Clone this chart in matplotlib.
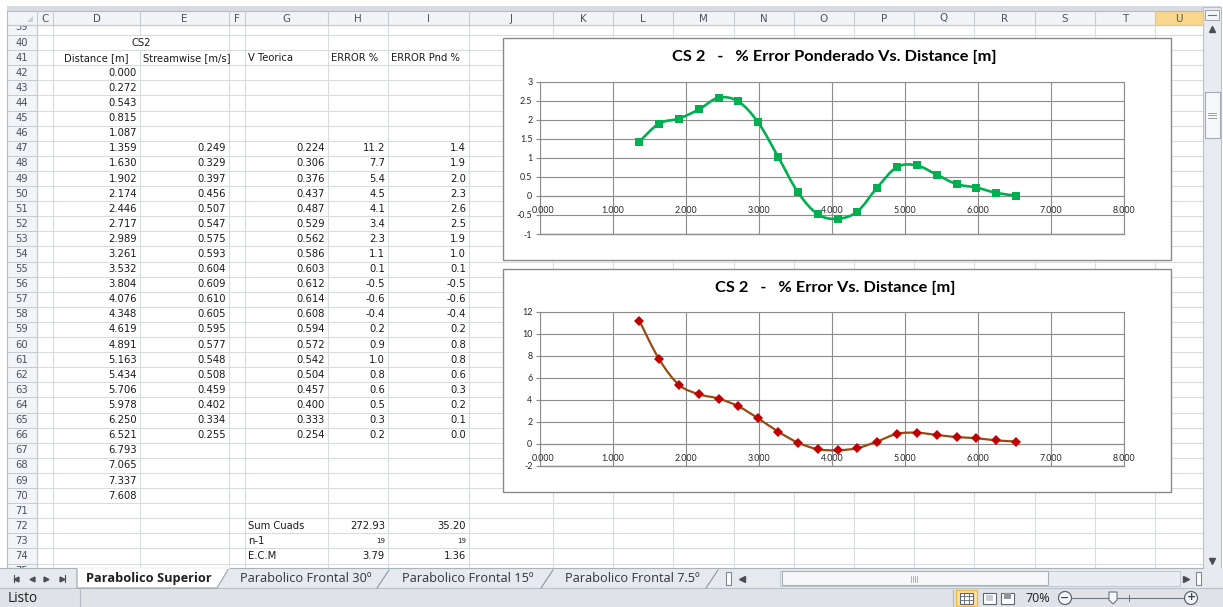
import numpy as np
import matplotlib.pyplot as plt
from matplotlib.patches import Rectangle, Polygon, Circle, PathPatch
from matplotlib.path import Path
from matplotlib.ticker import MultipleLocator, FuncFormatter

W, H = 1223, 607

# CS2 worksheet values
distance = [0.000, 0.272, 0.543, 0.815, 1.087, 1.359, 1.630, 1.902, 2.174,
            2.446, 2.717, 2.989, 3.261, 3.532, 3.804, 4.076, 4.348, 4.619,
            4.891, 5.163, 5.434, 5.706, 5.978, 6.250, 6.521, 6.793, 7.065,
            7.337, 7.608]
streamwise = [0.249, 0.329, 0.397, 0.456, 0.507, 0.547, 0.575, 0.593, 0.604,
              0.609, 0.610, 0.605, 0.595, 0.577, 0.548, 0.508, 0.459, 0.402,
              0.334, 0.255]
v_teorica = [0.224, 0.306, 0.376, 0.437, 0.487, 0.529, 0.562, 0.586, 0.603,
             0.612, 0.614, 0.608, 0.594, 0.572, 0.542, 0.504, 0.457, 0.400,
             0.333, 0.254]
error_pct = [11.2, 7.7, 5.36, 4.5, 4.1, 3.4, 2.3, 1.1, 0.1, -0.5, -0.6, -0.4,
             0.2, 0.9, 1.0, 0.8, 0.6, 0.5, 0.3, 0.2]
error_pnd = [1.42, 1.9, 2.03, 2.27, 2.58, 2.48, 1.93, 1.03, 0.1, -0.48, -0.6,
             -0.41, 0.22, 0.76, 0.8, 0.56, 0.31, 0.22, 0.08, 0.01]
sum_cuads = [272.93, 35.20]
n_minus_1 = [19, 19]
ecm = [3.79, 1.36]

headers = ['Distance [m]', 'Streamwise [m/s]', 'V Teorica', 'ERROR %', 'ERROR Pnd %']
summary_labels = ['Sum Cuads', 'n-1', 'E.C.M']
sheet_tabs = ['Parabolico Superior', 'Parabolico Frontal 30º',
              'Parabolico Frontal 15º', 'Parabolico Frontal 7.5º']
x_ticks = [0, 1, 2, 3, 4, 5, 6, 7, 8]

# sheet geometry (pixels)
cols = list('CDEFGHIJKLMNOPQRSTU')
edges = [37, 53, 140, 229, 245, 328, 388, 469, 553, 613, 673, 734, 794,
         854, 914, 974, 1035, 1095, 1155, 1203]
ROW_H = 15.1
FIRST_ROW, LAST_ROW = 39, 75
HEAD_TOP, HEAD_BOT = 11, 25
SHEET_LEFT = 7
SHEET_BOT = 568

GRID = '#d9dcdf'
HEAD_BG = '#f2f4f7'
HEAD_LINE = '#c6cbd2'
CELL_FONT = dict(family='DejaVu Sans', fontsize=7.2, color='#1a1a1a')


def row_y(r):
    return 148.3 + (r - 47) * 15.1


def right(c):
    return edges[cols.index(c) + 1]


def left(c):
    return edges[cols.index(c)]


def smooth_path(x, y):
    pts = np.column_stack([x, y])
    n = len(pts)
    verts, codes = [pts[0]], [Path.MOVETO]
    for i in range(n - 1):
        p0, p1 = pts[max(i - 1, 0)], pts[i]
        p2, p3 = pts[i + 1], pts[min(i + 2, n - 1)]
        verts += [p1 + (p2 - p0) / 6, p2 - (p3 - p1) / 6, p2]
        codes += [Path.CURVE4] * 3
    return Path(verts, codes)


fig = plt.figure(figsize=(W / 100, H / 100), dpi=100)
bg = fig.add_axes([0, 0, 1, 1])
bg.set_xlim(0, W)
bg.set_ylim(H, 0)
bg.axis('off')

# cell grid
for r in range(FIRST_ROW - 1, LAST_ROW + 1):
    yb = row_y(r) + ROW_H / 2
    bg.plot([edges[0], edges[-1]], [yb, yb], color=GRID, lw=0.8, zorder=1)
for e in edges[1:-1]:
    if e == right('D'):
        # D40:E40 is merged
        y40a, y40b = row_y(40) - ROW_H / 2, row_y(40) + ROW_H / 2
        bg.plot([e, e], [HEAD_BOT, y40a], color=GRID, lw=0.8, zorder=1)
        bg.plot([e, e], [y40b, SHEET_BOT], color=GRID, lw=0.8, zorder=1)
    else:
        bg.plot([e, e], [HEAD_BOT, SHEET_BOT], color=GRID, lw=0.8, zorder=1)

# cell contents
bg.text((left('D') + right('E')) / 2, row_y(40), 'CS2', ha='center', va='center', **CELL_FONT)
bg.text((left('D') + right('D')) / 2, row_y(41), headers[0], ha='center', va='center', **CELL_FONT)
for c, txt in zip('EGHI', headers[1:]):
    bg.text(left(c) + 3, row_y(41), txt, ha='left', va='center', **CELL_FONT)

for i, d in enumerate(distance):
    bg.text(right('D') - 3, row_y(42 + i), f'{d:.3f}', ha='right', va='center', **CELL_FONT)
for i in range(len(streamwise)):
    y = row_y(47 + i)
    bg.text(right('E') - 3, y, f'{streamwise[i]:.3f}', ha='right', va='center', **CELL_FONT)
    bg.text(right('G') - 3, y, f'{v_teorica[i]:.3f}', ha='right', va='center', **CELL_FONT)
    bg.text(right('H') - 3, y, f'{error_pct[i]:.1f}', ha='right', va='center', **CELL_FONT)
    bg.text(right('I') - 3, y, f'{error_pnd[i]:.1f}', ha='right', va='center', **CELL_FONT)

for k, lab in enumerate(summary_labels):
    bg.text(left('G') + 3, row_y(72 + k), lab, ha='left', va='center', **CELL_FONT)
for c, j in zip('HI', range(2)):
    bg.text(right(c) - 3, row_y(72), f'{sum_cuads[j]:.2f}', ha='right', va='center', **CELL_FONT)
    bg.text(right(c) - 3, row_y(73), f'{n_minus_1[j]}', ha='right', va='center',
            family='DejaVu Sans', fontsize=5, color='#1a1a1a')
    bg.text(right(c) - 3, row_y(74), f'{ecm[j]:.2f}', ha='right', va='center', **CELL_FONT)

# window frame strip above the headers
bg.add_patch(Rectangle((SHEET_LEFT, 6), W - SHEET_LEFT - 2, HEAD_TOP - 6,
                       facecolor='#d7dce2', edgecolor='none', zorder=3))

# row headers
bg.add_patch(Rectangle((SHEET_LEFT, HEAD_BOT), edges[0] - SHEET_LEFT, SHEET_BOT - HEAD_BOT,
                       facecolor=HEAD_BG, edgecolor='none', zorder=2))
bg.plot([edges[0], edges[0]], [HEAD_BOT, SHEET_BOT], color=HEAD_LINE, lw=0.9, zorder=2.2)
for r in range(FIRST_ROW, LAST_ROW + 1):
    yb = row_y(r) + ROW_H / 2
    bg.plot([SHEET_LEFT, edges[0]], [yb, yb], color=HEAD_LINE, lw=0.7, zorder=2.2)
    bg.text(22, row_y(r), str(r), ha='center', va='center', zorder=2.5,
            family='DejaVu Sans', fontsize=7.2, color='#4a5260')

# column headers
bg.add_patch(Rectangle((SHEET_LEFT, HEAD_TOP), edges[-1] - SHEET_LEFT, HEAD_BOT - HEAD_TOP,
                       facecolor=HEAD_BG, edgecolor='none', zorder=3))
bg.add_patch(Rectangle((left('U'), HEAD_TOP), right('U') - left('U'), HEAD_BOT - HEAD_TOP,
                       facecolor='#f9d78c', edgecolor='#efc060', lw=0.8, zorder=3.1))
bg.plot([SHEET_LEFT, edges[-1]], [HEAD_BOT, HEAD_BOT], color=HEAD_LINE, lw=0.9, zorder=3.2)
bg.plot([SHEET_LEFT, edges[-1]], [HEAD_TOP, HEAD_TOP], color='#b4bbc4', lw=0.8, zorder=3.2)
for e in edges:
    bg.plot([e, e], [HEAD_TOP, HEAD_BOT], color=HEAD_LINE, lw=0.8, zorder=3.2)
for c in cols:
    bg.text((left(c) + right(c)) / 2, (HEAD_TOP + HEAD_BOT) / 2 + 0.5, c, ha='center',
            va='center', zorder=3.5, family='DejaVu Sans', fontsize=7.4, color='#4a5260')
bg.add_patch(Polygon([(33, 16), (33, 22), (27, 22)], closed=True,
                     facecolor='#cbd0d7', edgecolor='none', zorder=3.5))
bg.plot([SHEET_LEFT, SHEET_LEFT], [HEAD_TOP, SHEET_BOT], color='#b4bbc4', lw=0.8, zorder=3.2)

# vertical scrollbar
bg.add_patch(Rectangle((1203, HEAD_TOP - 4), 18, SHEET_BOT - HEAD_TOP + 4,
                       facecolor='#e8ebef', edgecolor='#b9c0c9', lw=0.8, zorder=3))
bg.add_patch(Rectangle((1205, 10), 14, 10, facecolor='#f3f5f7',
                       edgecolor='#9aa3ad', lw=0.7, zorder=3.2))
bg.plot([1208, 1216], [15, 15], color='#6b7480', lw=0.8, zorder=3.3)
bg.plot([1212], [29], marker='^', ms=4.5, color='#4a4f55', zorder=3.3)
bg.plot([1212], [561], marker='v', ms=4.5, color='#4a4f55', zorder=3.3)
bg.add_patch(Rectangle((1204.5, 92), 15, 46, facecolor='#f7f8fa',
                       edgecolor='#a3abb5', lw=0.8, zorder=3.2))
for yy in (112.5, 115, 117.5):
    bg.plot([1208, 1216], [yy, yy], color='#8c939c', lw=0.6, zorder=3.3)

# sheet tab bar
bg.add_patch(Rectangle((0, SHEET_BOT), W, 20, facecolor='#e6e9ed',
                       edgecolor='none', zorder=4))
bg.plot([0, 1203], [SHEET_BOT, SHEET_BOT], color='#aab2bc', lw=0.8, zorder=4.1)
for xx, m in zip([16, 32, 46, 62], ['<', '<', '>', '>']):
    bg.plot([xx], [578.5], marker=m, ms=3.5, color='#4a4f55', zorder=4.2)
bg.plot([13.5, 13.5], [575, 582], color='#4a4f55', lw=0.8, zorder=4.2)
bg.plot([64.5, 64.5], [575, 582], color='#4a4f55', lw=0.8, zorder=4.2)
bg.add_patch(Polygon([(77, SHEET_BOT), (77, 588), (217, 588), (229, SHEET_BOT)],
                     closed=True, facecolor='white', edgecolor='#9aa3ad', lw=0.8, zorder=4.2))
bg.plot([77.5, 228.5], [SHEET_BOT, SHEET_BOT], color='white', lw=1.2, zorder=4.3)
tab_x = [86, 240, 402, 565]
sep_x = [None, 377, 541, 706]
for k, (tx, name) in enumerate(zip(tab_x, sheet_tabs)):
    bg.text(tx, 578.5, name, ha='left', va='center', zorder=4.5,
            family='Open Sans', fontsize=9.2,
            fontweight='bold' if k == 0 else 'normal',
            color='#1f1f1f' if k == 0 else '#30363d')
    if sep_x[k]:
        bg.plot([sep_x[k], sep_x[k] + 12], [588, 570], color='#8d96a1', lw=0.8, zorder=4.3)
bg.add_patch(Rectangle((725.5, 572), 5, 13, facecolor='white', edgecolor='#7d8590',
                       lw=0.8, zorder=4.3))
bg.plot([742], [578.5], marker='<', ms=4, color='#4a4f55', zorder=4.3)
bg.add_patch(Rectangle((780, 570.5), 400, 15, facecolor='#e9ecf0',
                       edgecolor='#c1c7cf', lw=0.7, zorder=4.2))
bg.add_patch(Rectangle((782, 571), 266, 14, facecolor='#f6f7f9',
                       edgecolor='#a7afb9', lw=0.8, zorder=4.3))
for xx in (911, 913, 915, 917):
    bg.plot([xx, xx], [575.5, 581.5], color='#8c939c', lw=0.5, zorder=4.4)
bg.plot([1186], [578.5], marker='>', ms=4, color='#4a4f55', zorder=4.3)
bg.add_patch(Rectangle((1195.5, 572), 5, 13, facecolor='white', edgecolor='#7d8590',
                       lw=0.8, zorder=4.3))

# status bar
bg.add_patch(Rectangle((0, 588), W, H - 588, facecolor='#dfe3e8',
                       edgecolor='none', zorder=4))
bg.plot([0, W], [588, 588], color='#b8c0c9', lw=0.8, zorder=4.1)
bg.text(8, 598, 'Listo', ha='left', va='center', family='Open Sans', fontsize=9.8,
        color='#1f1f1f', zorder=4.5)
bg.plot([80, 80], [590, 606], color='#b0b8c2', lw=0.8, zorder=4.2)
bg.plot([953, 953], [590, 606], color='#b0b8c2', lw=0.8, zorder=4.2)
bg.add_patch(Rectangle((956, 589.5), 21, 16, facecolor='#fbe2a6',
                       edgecolor='#f0b93b', lw=0.9, zorder=4.3))
for x0 in (960, 983, 1001):
    bg.add_patch(Rectangle((x0, 592.5), 13, 11, facecolor='white',
                           edgecolor='#5c6570', lw=0.8, zorder=4.4))
for xx in (964.3, 968.6):
    bg.plot([xx, xx], [592.5, 603.5], color='#5c6570', lw=0.6, zorder=4.5)
for yy in (596.2, 599.8):
    bg.plot([960, 973], [yy, yy], color='#5c6570', lw=0.6, zorder=4.5)
bg.add_patch(Rectangle((986, 595), 7, 6, facecolor='#c6ccd4', edgecolor='none', zorder=4.5))
bg.add_patch(Rectangle((1004, 592.5), 7, 6, facecolor='#8d96a1', edgecolor='none', zorder=4.5))
bg.text(1038, 598, '70%', ha='center', va='center', family='Open Sans', fontsize=9,
        color='#1f1f1f', zorder=4.5)
bg.plot([1072, 1184], [598, 598], color='#6d7681', lw=0.8, zorder=4.3)
for cx, sym in ((1065, '−'), (1191, '+')):
    bg.add_patch(Circle((cx, 598), 6.5, facecolor='#f4f6f8', edgecolor='#5c6570',
                        lw=0.9, zorder=4.4))
    bg.text(cx, 597.5, sym, ha='center', va='center', family='DejaVu Sans',
            fontsize=8, fontweight='bold', color='#3c4550', zorder=4.5)
bg.plot([1129, 1129], [595, 601], color='#6d7681', lw=0.7, zorder=4.3)
bg.add_patch(Polygon([(1109, 592), (1117, 592), (1117, 600), (1113, 604), (1109, 600)],
                     closed=True, facecolor='#f6f7f9', edgecolor='#6d7681', lw=0.8, zorder=4.5))

# charts
CHART_FONT = 'Lato'
AXIS_GRAY = '#8c8c8c'


def draw_chart(box, plot, title, title_pos, ylim, ystep, y, line_color, marker,
               marker_color, ms, lw):
    bx0, by0, bx1, by1 = box
    bg.add_patch(Rectangle((bx0, by0), bx1 - bx0, by1 - by0, facecolor='white',
                           edgecolor='#8a8a8a', lw=1.0, zorder=5))
    bg.text(title_pos[0], title_pos[1], title, ha='center', va='center', zorder=6,
            family=CHART_FONT, fontsize=11.8, fontweight='bold', color='#000000')
    l, t, r, b = plot
    ax = fig.add_axes([l / W, 1 - b / H, (r - l) / W, (b - t) / H])
    ax.set_facecolor('white')
    ax.set_xlim(x_ticks[0], x_ticks[-1])
    ax.set_ylim(*ylim)
    ax.set_xticks(x_ticks)
    ax.yaxis.set_major_locator(MultipleLocator(ystep))
    ax.yaxis.set_major_formatter(FuncFormatter(lambda v, p: f'{v:g}'))
    ax.grid(True, color=AXIS_GRAY, lw=0.8)
    ax.set_axisbelow(True)
    ax.spines['bottom'].set_position(('data', 0))
    for s in ('left', 'bottom', 'top', 'right'):
        ax.spines[s].set_color(AXIS_GRAY)
        ax.spines[s].set_linewidth(0.8)
    # plot-area border along the lower edge
    ax.axhline(ylim[0], color=AXIS_GRAY, lw=1.0, clip_on=False, zorder=1)
    ax.tick_params(axis='x', length=0, labelbottom=False)
    ax.tick_params(axis='y', length=3, width=0.8, color=AXIS_GRAY, pad=2.5,
                   labelsize=6.4, labelcolor='#262626')
    for lab in ax.get_yticklabels():
        lab.set_family(CHART_FONT)
    # category labels hang under the axis line at y = 0; the first one is
    # nudged right so it clears the vertical axis labels
    for v in x_ticks:
        ax.annotate(f'{v:.3f}', (v, 0), xytext=(2.5 if v == 0 else 0, -7.5),
                    textcoords='offset points', ha='center', va='top',
                    family=CHART_FONT, fontsize=6.4, color='#262626',
                    annotation_clip=False)
    x = distance[5:5 + len(y)]
    ax.add_patch(PathPatch(smooth_path(x, y), fill=False, edgecolor=line_color,
                           lw=lw, zorder=3))
    ax.plot(x, y, linestyle='none', marker=marker, ms=ms, color=marker_color,
            markeredgewidth=0, zorder=4)
    return ax


draw_chart((503, 38, 1171, 260), (540, 81.7, 1124, 234),
           'CS 2   -   % Error Ponderado Vs. Distance [m]', (834, 57),
           (-1, 3), 0.5, error_pnd, '#00b050', 's', '#00b050', 6.2, 1.9)
draw_chart((503, 269, 1171, 492), (540, 311.7, 1124, 465.7),
           'CS 2   -   % Error Vs. Distance [m]', (835, 288),
           (-2, 12), 2, error_pct, '#9a4a10', 'D', '#c00000', 5.2, 1.6)

fig.savefig('out.png', dpi=100)
